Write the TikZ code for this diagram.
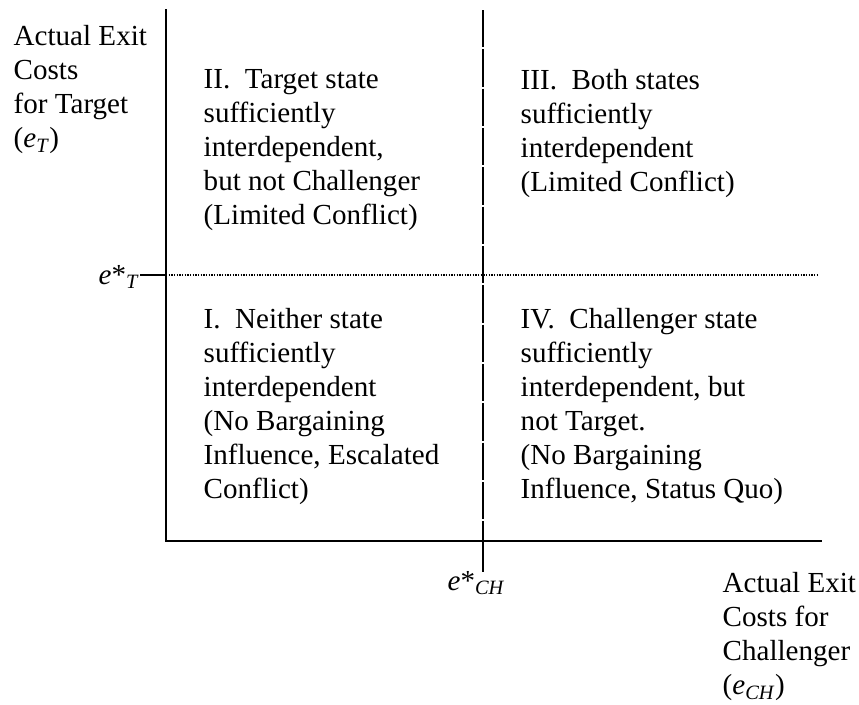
\documentclass[tikz,border=0pt]{standalone}
\usepackage{fontspec}
\setmainfont{Liberation Serif}
\usetikzlibrary{positioning}

\begin{document}
\begin{tikzpicture}[x=0.75pt,y=-0.75pt,line width=1.1pt,
  quad/.style={anchor=north west,align=left,inner sep=0pt,
    font=\fontsize{21.8}{25.5}\selectfont},
  mark label/.style={inner sep=0pt,font=\fontsize{21.8}{25.5}\selectfont}]

\useasboundingbox (0,0) rectangle (859,704);

% axes and thresholds
\coordinate (ytop)   at (166,9);
\coordinate (O)      at (166,541);
\coordinate (xend)   at (822,541);
\coordinate (chtop)  at (483,10);
\coordinate (chaxis) at (483,541);
\coordinate (chbot)  at (483,572);
\coordinate (ttick)  at (140,275);
\coordinate (taxis)  at (166,275);
\coordinate (tend)   at (817,275);

\draw (ytop) -- (O) -- (xend);
\draw[dash pattern=on 28pt off 1.5pt] (chtop) -- (chaxis);
\draw (chaxis) -- (chbot);
\draw (ttick) -- (taxis);
\draw[line width=1.4pt,dash pattern=on 1.1pt off 0.9pt] (taxis) -- (tend);

% quadrants
\node[quad] (q2) at (203,69) {II.\ \ Target state\\sufficiently\\interdependent,\\but not Challenger\\(Limited Conflict)};
\node[quad] (q3) at (520,69) {III.\ \ Both states\\sufficiently\\interdependent\\(Limited Conflict)};
\node[quad] (q1) at (203,308) {I.\ \ Neither state\\sufficiently\\interdependent\\(No Bargaining\\Influence, Escalated\\Conflict)};
\node[quad] (q4) at (520,308) {IV.\ \ Challenger state\\sufficiently\\interdependent, but\\not Target.\\(No Bargaining\\Influence, Status Quo)};

% axis labels
\node[quad] (ylab) at (13,25) {Actual Exit\\Costs\\for Target\\(\textit{e}\textsubscript{\textit{T}})};
\node[quad] (xlab) at (722,572) {Actual Exit\\Costs for\\Challenger\\(\textit{e}\textsubscript{\textit{CH}})};
\node[mark label,anchor=base east] (eT) at (140,284) {\textit{e}*\textsubscript{\textit{T}}};
\node[mark label,anchor=base west] (eCH) at (447,590) {\textit{e}*\textsubscript{\textit{CH}}};
\end{tikzpicture}
\end{document}
